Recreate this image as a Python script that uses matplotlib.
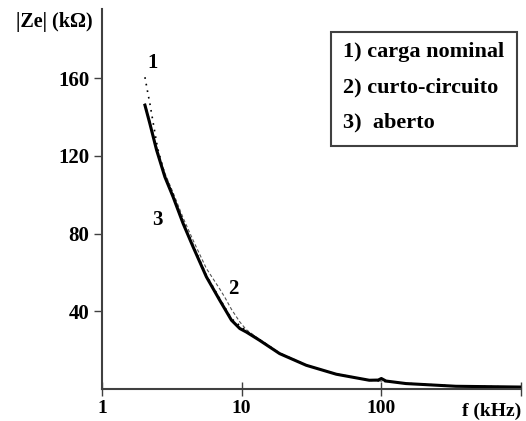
import numpy as np
import matplotlib
matplotlib.use("Agg")
import matplotlib.pyplot as plt

# frequencia (kHz) e |Ze| (kOhm)
f_aberto = [2.03, 2.2, 2.46, 2.82, 3.23, 3.81, 4.49, 5.59, 6.96, 8.45, 9.7, 10.8, 13.4, 18.7, 29.0, 47.6, 82.0, 95.0, 100.0, 108.0, 150.0, 342.0, 1000.0]
z_aberto = [146.0, 136.6, 122.9, 109.1, 98.8, 85.1, 73.1, 57.7, 45.7, 35.4, 31.1, 29.3, 25.1, 18.2, 12.2, 7.6, 4.5, 4.6, 5.4, 4.1, 2.8, 1.4, 1.0]

f_nominal = [2.03, 2.12, 2.2, 2.35, 2.5, 2.82, 3.23, 3.81, 4.49, 5.59, 6.96, 8.45, 10.8, 13.4, 18.7, 29.0, 47.6, 82.0, 150.0, 342.0, 1000.0]
z_nominal = [160.4, 153.0, 147.0, 135.0, 124.0, 110.0, 99.8, 86.0, 74.0, 58.5, 46.5, 36.2, 29.8, 25.4, 18.4, 12.3, 7.7, 4.6, 2.9, 1.5, 1.0]

f_curto = [2.03, 2.2, 2.46, 2.82, 3.23, 3.81, 4.49, 5.59, 6.96, 7.6, 8.45, 9.7, 10.8, 13.4, 18.7, 29.0, 47.6, 82.0, 150.0, 342.0, 1000.0]
z_curto = [147.0, 138.0, 124.5, 111.0, 101.0, 88.0, 76.5, 62.0, 51.5, 47.0, 41.0, 34.5, 30.5, 25.6, 18.5, 12.4, 7.7, 4.6, 2.9, 1.5, 1.0]

y_ticks = [40, 80, 120, 160]
x_ticks = [1, 10, 100]
legenda = ["1) carga nominal", "2) curto-circuito", "3)  aberto"]

plt.rcParams['font.family'] = ['Liberation Serif', 'DejaVu Serif']
plt.rcParams['font.weight'] = 'bold'

fig = plt.figure(figsize=(5.26, 4.21), dpi=100)
ax = fig.add_axes([102 / 526, 1 - 389 / 421, 419 / 526, 380 / 421])

ax.plot(f_curto, z_curto, color='#555555', lw=0.8, ls=(0, (3, 2)))
ax.plot(f_nominal, z_nominal, color='black', lw=1.2, ls=(0, (1, 3)))
ax.plot(f_aberto, z_aberto, color='black', lw=2.2)

ax.set_xscale('log')
ax.set_xlim(1, 1000)
ax.set_ylim(0, 195.5)

for s in ['top', 'right']:
    ax.spines[s].set_visible(False)
for s in ['left', 'bottom']:
    ax.spines[s].set_color('#404040')
    ax.spines[s].set_linewidth(1.5)

ax.set_yticks(y_ticks)
ax.set_yticklabels([str(v) for v in y_ticks], fontsize=15, fontweight='bold')
ax.tick_params(axis='y', direction='out', length=6, width=1, color='#404040', pad=3)
ax.set_xticks(x_ticks + [1000])
ax.set_xticklabels([str(v) for v in x_ticks] + [''], fontsize=14, fontweight='bold')
ax.xaxis.set_minor_locator(matplotlib.ticker.NullLocator())
ax.tick_params(axis='x', direction='inout', length=10, width=1, color='#404040', pad=3)

ax.text(-0.205, 0.965, '|Ze| (k\u03a9)', transform=ax.transAxes, fontsize=14.5, fontweight='bold', va='center')
ax.text(1.0, -0.06, 'f (kHz)', transform=ax.transAxes, fontsize=14, fontweight='bold', va='center', ha='right')

ax.text(2.31, 167.7, '1', fontsize=15, fontweight='bold', ha='center', va='center')
ax.text(8.77, 51.3, '2', fontsize=15, fontweight='bold', ha='center', va='center')
ax.text(2.51, 86.8, '3', fontsize=15, fontweight='bold', ha='center', va='center')

# caixa da legenda
box = matplotlib.patches.Rectangle((330.7 / 526, 1 - 145.7 / 421), 186.6 / 526, 113.4 / 421,
                                   transform=fig.transFigure, fill=False, edgecolor='#404040', lw=1.5)
fig.patches.append(box)
for i, t in enumerate(legenda):
    fig.text(343 / 526, 1 - (52 + i * 35) / 421, t, fontsize=16, fontweight='bold', va='center')

fig.savefig('out.png', dpi=100)
